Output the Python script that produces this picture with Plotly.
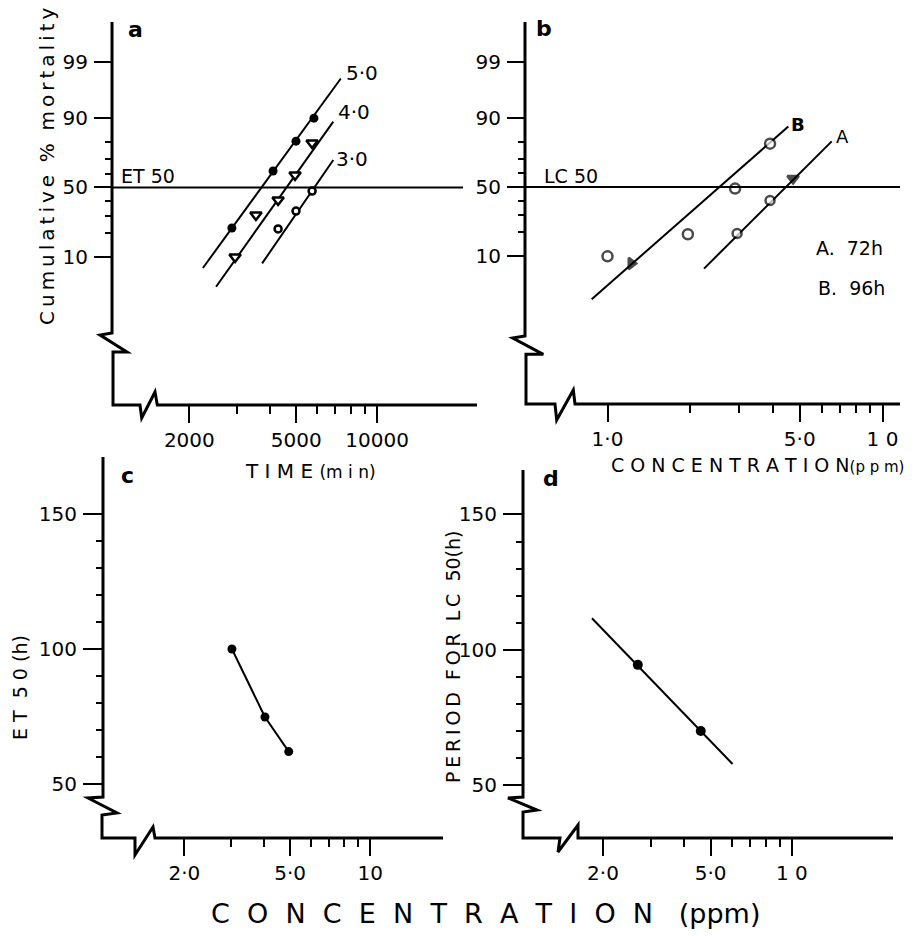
import plotly.graph_objects as go
from statistics import NormalDist

W, H = 922, 936
ND = NormalDist()


def probit(p):
    return ND.inv_cdf(p / 100.0) + 5.0


# ---------------- data ----------------
# panel a : cumulative % mortality vs time (min) at three concentrations (ppm)
time_50 = [2880, 4100, 4990, 5820]
mort_50 = [22.6, 61.9, 80.4, 90.0]
time_40 = [2960, 3540, 4280, 4950, 5730]
mort_40 = [9.9, 30.5, 40.8, 59.1, 79.4]
time_30 = [4280, 4990, 5730]
mort_30 = [22.1, 33.1, 47.3]
fit_time_50 = [2246, 7330]
fit_mort_50 = [6.8, 97.8]
fit_time_40 = [2515, 6870]
fit_mort_40 = [3.3, 88.8]
fit_time_30 = [3733, 6870]
fit_mort_30 = [8.0, 69.4]

# panel b : cumulative % mortality vs concentration (ppm)
conc_96 = [1.0, 1.22, 1.96, 2.91, 3.90]
mort_96 = [9.9, 7.8, 19.0, 48.8, 78.9]
conc_72 = [2.96, 3.90, 4.73]
mort_72 = [19.4, 40.1, 56.2]
fit_conc_96 = [0.876, 4.545]
fit_mort_96 = [1.87, 86.9]
fit_conc_72 = [2.244, 6.536]
fit_mort_72 = [6.5, 80.1]

# panel c : ET50 (h) vs concentration
conc_c = [3.02, 4.02, 4.94]
et50_c = [100.0, 74.8, 62.0]

# panel d : period for LC50 (h) vs concentration
conc_d = [2.69, 4.60]
period_d = [94.5, 70.1]
fit_conc_d = [1.82, 6.03]
fit_period_d = [111.7, 57.9]

# tick labels
prob_ticks = [99, 90, 50, 10]
prob_minor = [20, 30, 40, 60, 70, 80]
time_ticks = [2000, 5000, 10000]
time_minor = [3000, 4000, 6000, 7000, 8000, 9000]
conc_ticks_b = [1, 5, 10]
conc_text_b = ["1·0", "5·0", "1 0"]
conc_minor_b = [2, 3, 4, 6, 7, 8, 9]
conc_ticks_cd = [2, 5, 10]
conc_text_c = ["2·0", "5·0", "10"]
conc_text_d = ["2·0", "5·0", "1 0"]
conc_minor_cd = [3, 4, 6, 7, 8, 9]
hour_ticks = [50, 100, 150]
hour_minor = [60, 70, 80, 90, 110, 120, 130, 140]

FONT = "DejaVu Sans"
BLACK = "black"
TS = "\u2009"  # thin space used for letter spacing


def spaced(s, sep=TS):
    return sep.join(list(s))


def P(x, y):
    return x / W, 1 - y / H


def xdom(a, b):
    return [a / W, b / W]


def ydom(top, bottom):
    return [1 - bottom / H, 1 - top / H]


def path(pts):
    s = []
    for i, (x, y) in enumerate(pts):
        px, py = P(x, y)
        s.append(("M" if i == 0 else "L") + f"{px:.5f},{py:.5f}")
    return " ".join(s)


fig = go.Figure()

line_style = dict(color=BLACK, width=2)

# panel a
pa = lambda v: [probit(p) for p in v]
for tx, my in [(fit_time_50, fit_mort_50), (fit_time_40, fit_mort_40), (fit_time_30, fit_mort_30)]:
    fig.add_trace(go.Scatter(x=tx, y=pa(my), mode="lines", line=line_style, xaxis="x", yaxis="y"))
fig.add_trace(go.Scatter(x=time_50, y=pa(mort_50), mode="markers", xaxis="x", yaxis="y",
                         marker=dict(symbol="circle", size=9, color=BLACK)))
fig.add_trace(go.Scatter(x=time_40, y=pa(mort_40), mode="markers", xaxis="x", yaxis="y",
                         marker=dict(symbol="triangle-down", size=10, color="white",
                                     line=dict(color=BLACK, width=2.5))))
fig.add_trace(go.Scatter(x=time_30, y=pa(mort_30), mode="markers", xaxis="x", yaxis="y",
                         marker=dict(symbol="circle", size=7, color="white",
                                     line=dict(color=BLACK, width=2.5))))

# panel b
for cx, my in [(fit_conc_96, fit_mort_96), (fit_conc_72, fit_mort_72)]:
    fig.add_trace(go.Scatter(x=cx, y=pa(my), mode="lines", line=line_style, xaxis="x2", yaxis="y2"))
fig.add_trace(go.Scatter(x=conc_96, y=pa(mort_96), mode="markers", xaxis="x2", yaxis="y2",
                         marker=dict(symbol=["circle", "triangle-right", "circle", "circle", "circle"],
                                     size=[10, 10, 10, 10, 10],
                                     color=["white", BLACK, "white", "white", "white"],
                                     line=dict(color=BLACK, width=2.5))))
fig.add_trace(go.Scatter(x=conc_72, y=pa(mort_72), mode="markers", xaxis="x2", yaxis="y2",
                         marker=dict(symbol=["circle", "circle", "triangle-down"],
                                     size=[9, 9, 10],
                                     color=["white", "white", BLACK],
                                     line=dict(color=BLACK, width=2.5))))

# panel c
fig.add_trace(go.Scatter(x=conc_c, y=et50_c, mode="lines+markers", xaxis="x3", yaxis="y3",
                         line=line_style, marker=dict(symbol="circle", size=9, color=BLACK)))

# panel d
fig.add_trace(go.Scatter(x=fit_conc_d, y=fit_period_d, mode="lines", xaxis="x4", yaxis="y4",
                         line=line_style))
fig.add_trace(go.Scatter(x=conc_d, y=period_d, mode="markers", xaxis="x4", yaxis="y4",
                         marker=dict(symbol="circle", size=10, color=BLACK)))

tickfont = dict(family=FONT, size=20, color=BLACK)


def xaxis(domain, rng, tv, tt, minor, anchor):
    return dict(type="log", domain=domain, range=rng, anchor=anchor,
                tickmode="array", tickvals=tv, ticktext=tt,
                ticks="outside", ticklen=17, tickwidth=2, tickcolor=BLACK,
                minor=dict(tickmode="array", tickvals=minor, ticks="outside",
                           ticklen=8, tickwidth=2, tickcolor=BLACK),
                showgrid=False, zeroline=False, showline=False,
                tickfont=tickfont, ticklabelstandoff=0, fixedrange=True)


def yaxis(domain, rng, tv, tt, minor, anchor, tlen):
    return dict(domain=domain, range=rng, anchor=anchor,
                tickmode="array", tickvals=tv, ticktext=tt,
                ticks="outside", ticklen=tlen, tickwidth=2, tickcolor=BLACK,
                minor=dict(tickmode="array", tickvals=minor, ticks="outside",
                           ticklen=6, tickwidth=2, tickcolor=BLACK),
                showgrid=False, zeroline=False, showline=False,
                tickfont=tickfont, ticklabelstandoff=2, fixedrange=True)


prob_tv = [probit(p) for p in prob_ticks]
prob_tt = [str(p) for p in prob_ticks]
prob_mv = [probit(p) for p in prob_minor]

layout = dict(
    width=W, height=H, margin=dict(l=0, r=0, t=0, b=0),
    paper_bgcolor="white", plot_bgcolor="white", showlegend=False,
    font=dict(family=FONT, color=BLACK),
    xaxis=xaxis(xdom(112, 463), [3.013, 4.320], time_ticks, [str(t) for t in time_ticks], time_minor, "y"),
    yaxis=yaxis(ydom(22, 405), [0.974, 8.06], prob_tv, prob_tt, prob_mv, "x", 17),
    xaxis2=xaxis(xdom(525, 900), [-0.3, 1.0636], conc_ticks_b, conc_text_b, conc_minor_b, "y2"),
    yaxis2=yaxis(ydom(22, 404), [0.974, 8.06], prob_tv, prob_tt, prob_mv, "x2", 17),
    xaxis3=xaxis(xdom(103, 443), [-0.005, 1.274], conc_ticks_cd, conc_text_c, conc_minor_cd, "y3"),
    yaxis3=yaxis(ydom(457, 838), [30.0, 171.1], hour_ticks, [str(h) for h in hour_ticks], hour_minor, "x3", 19),
    xaxis4=xaxis(xdom(523, 893), [0.005, 1.374], conc_ticks_cd, conc_text_d, conc_minor_cd, "y4"),
    yaxis4=yaxis(ydom(470, 838), [30.6, 166.4], hour_ticks, [str(h) for h in hour_ticks], hour_minor, "x4", 19),
)
fig.update_layout(**layout)

# axis lines with breaks (decoration)
axis_paths = [
    [(112, 22), (112, 333), (100, 335), (127, 352), (113, 352), (113, 405), (140, 405),
     (141.7, 418), (155, 392), (157.3, 405), (477, 405)],
    [(525, 22), (525, 336), (512.7, 338), (543.3, 354.3), (526, 354.3), (526, 404), (555, 404),
     (556.7, 420), (573.3, 390), (575, 404), (900, 404)],
    [(103, 457), (103, 797), (88, 798), (117, 813), (102, 815), (102, 838), (135, 838),
     (135, 855), (153, 827), (155, 838), (443, 838)],
    [(523, 470), (523, 797), (508, 798), (537, 810), (523, 812), (523, 838), (560, 838),
     (558, 852), (578, 825), (578, 838), (893, 838)],
]
for pts in axis_paths:
    fig.add_shape(type="path", path=path(pts), xref="paper", yref="paper",
                  line=dict(color=BLACK, width=3))

# 50 % reference lines
fig.add_shape(type="line", xref="x domain", yref="y", x0=0, x1=1, y0=probit(50), y1=probit(50),
              line=dict(color=BLACK, width=2))
fig.add_shape(type="line", xref="x2 domain", yref="y2", x0=0, x1=1, y0=probit(50), y1=probit(50),
              line=dict(color=BLACK, width=2))


def text(x, y, s, size=20, angle=0, bold=False):
    px, py = P(x, y)
    if bold:
        s = "<b>" + s + "</b>"
    fig.add_annotation(x=px, y=py, xref="paper", yref="paper", text=s, showarrow=False,
                       textangle=angle, xanchor="center", yanchor="middle",
                       font=dict(family=FONT, size=size, color=BLACK))


text(135, 30, "a", 22, bold=True)
text(544, 28, "b", 22, bold=True)
text(127, 475, "c", 22, bold=True)
text(551, 479, "d", 22, bold=True)

text(362, 73, "5·0", 20)
text(354, 112, "4·0", 20)
text(352, 159, "3·0", 20)
text(148, 176, "ET 50", 19)
text(571, 176, "LC 50", 19)
text(798, 125, "B", 18, bold=True)
text(842, 136, "A", 18)
text(849, 248, "A.  72h", 19)
text(851, 288, "B.  96h", 19)

text(47, 167, spaced("Cumulative") + "  %  " + spaced("mortality"), 20, angle=-90)
text(310, 471, "T I M E <span style='font-size:17px'>(m i n)</span>", 20)
text(757, 465, "C O N C E N T R A T I O N<span style='font-size:15px'>(p p m)</span>", 19)
text(20, 688, "E T  5 0 (h)", 19, angle=-90)
text(453, 657, spaced("PERIOD") + "  " + spaced("FOR") + "  " + spaced("LC") + "  50(h)", 19, angle=-90)
text(485, 913, "C  O  N  C  E  N  T  R  A  T  I  O  N   (ppm)", 27)

fig.write_html("out.html")
